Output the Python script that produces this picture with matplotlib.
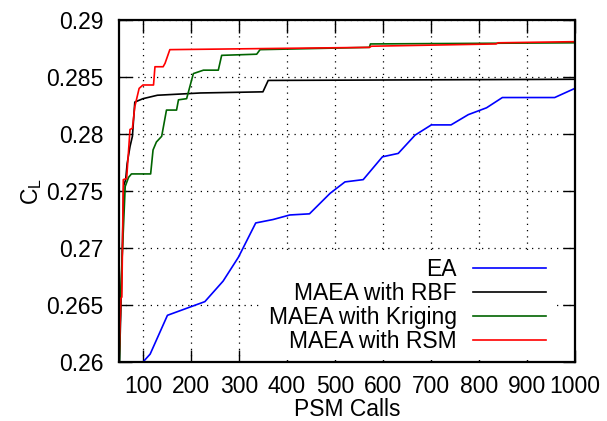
import matplotlib
matplotlib.use("Agg")
import matplotlib.pyplot as plt
from matplotlib.ticker import FormatStrFormatter

plt.rcParams['font.family'] = ['Liberation Sans', 'DejaVu Sans']
plt.rcParams['mathtext.fontset'] = 'custom'
plt.rcParams['mathtext.rm'] = 'Liberation Sans'
plt.rcParams['mathtext.it'] = 'Liberation Sans'

# data
ea_x = [100, 115, 151, 229, 267, 299, 335, 371, 406, 447, 490, 521, 559, 599,
        632, 667, 701, 742, 778, 816, 849, 958, 1000]
ea_y = [0.2600, 0.2607, 0.2641, 0.2653, 0.2671, 0.2692, 0.2722, 0.2725, 0.2729,
        0.2730, 0.2748, 0.2758, 0.2760, 0.2780, 0.2783, 0.2799, 0.2808, 0.2808,
        0.2817, 0.2823, 0.2832, 0.2832, 0.2840]

rbf_x = [51, 55, 60, 64, 67, 73, 78, 83, 100, 130, 220, 350, 361, 1000]
rbf_y = [0.2600, 0.2663, 0.2755, 0.2760, 0.2774, 0.2789, 0.2798, 0.2828,
         0.2831, 0.2834, 0.2836, 0.2837, 0.2847, 0.2848]

krig_x = [51, 54, 63, 70, 76, 116, 121, 128, 139, 149, 170, 174, 191, 198, 205,
          226, 257, 264, 337, 344, 572, 574, 1000]
krig_y = [0.2600, 0.2666, 0.2754, 0.2762, 0.2765, 0.2765, 0.2786, 0.2793,
          0.2798, 0.2821, 0.2821, 0.2830, 0.2831, 0.2842, 0.2853, 0.2856,
          0.2856, 0.2869, 0.2870, 0.2874, 0.2876, 0.2879, 0.2880]

rsm_x = [50, 54, 56, 59, 66, 73, 78, 83, 92, 100, 122, 125, 142, 146, 156,
         572, 576, 836, 840, 1000]
rsm_y = [0.2600, 0.2656, 0.2657, 0.2760, 0.2761, 0.2804, 0.2805, 0.2824,
         0.2840, 0.2843, 0.2843, 0.2859, 0.2859, 0.2862, 0.2874, 0.2876,
         0.2877, 0.2879, 0.2880, 0.2881]

xticks = list(range(100, 1001, 100))
yticks = [0.26, 0.265, 0.27, 0.275, 0.28, 0.285, 0.29]

fs = 16.5

fig = plt.figure(figsize=(6.07, 4.21), dpi=100)
ax = fig.add_axes([0.196, 0.140, 0.751, 0.8125])

lw = 1.2
ax.plot(ea_x, ea_y, color='#0000ff', lw=lw, label='EA')
ax.plot(rbf_x, rbf_y, color='black', lw=lw, label='MAEA with RBF')
ax.plot(krig_x, krig_y, color='#006400', lw=lw, label='MAEA with Kriging')
ax.plot(rsm_x, rsm_y, color='#ff0000', lw=lw, label='MAEA with RSM')

ax.set_xlim(50, 1000)
ax.set_ylim(0.26, 0.29)
ax.set_xticks(xticks)
ax.set_yticks(yticks)
ax.yaxis.set_major_formatter(FormatStrFormatter('%g'))
ax.grid(True, color='black', linestyle=(0, (1, 4)), lw=0.9)
ax.set_axisbelow(True)

ax.tick_params(direction='in', length=9, width=1, top=True, right=True,
               labelsize=fs)
ax.tick_params(axis='y', pad=11)
ax.tick_params(axis='x', pad=9)
for s in ax.spines.values():
    s.set_linewidth(1.6)

ax.set_xlabel('PSM Calls', fontsize=fs, labelpad=0)
ax.set_ylabel(r'C$_\mathrm{L}$', fontsize=fs, labelpad=2)

leg = ax.legend(loc='lower right', bbox_to_anchor=(0.952, 0.006),
                markerfirst=False, frameon=True,
                fancybox=False, edgecolor='none', facecolor='white',
                framealpha=1, fontsize=fs, handlelength=3.2,
                handletextpad=0.7, labelspacing=0.05, borderpad=0.3,
                borderaxespad=0.0)
leg.set_zorder(1.5)

fig.savefig('out.png', dpi=100)
